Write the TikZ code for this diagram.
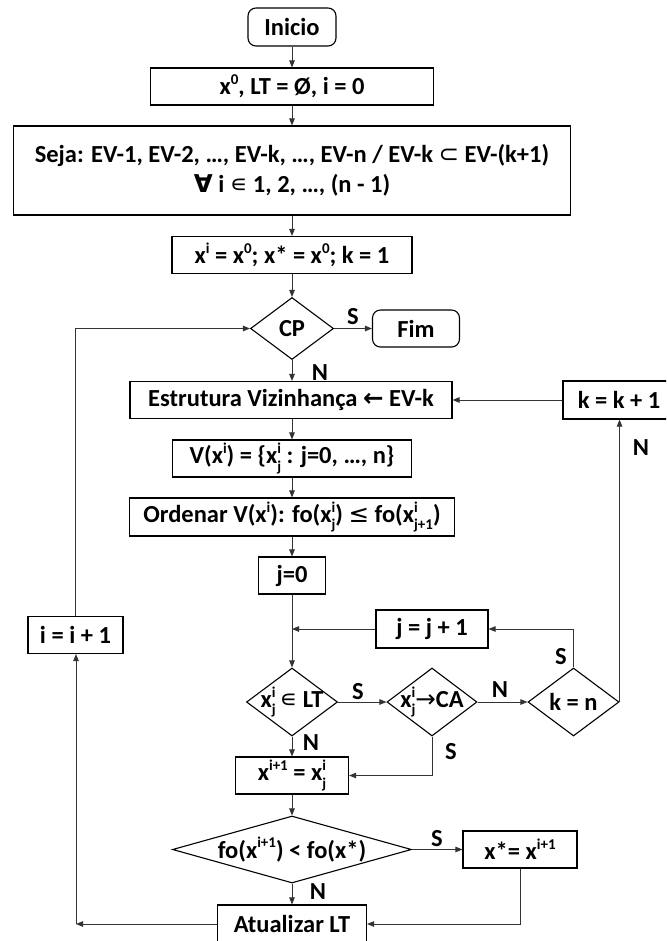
\documentclass[tikz,border=0pt]{standalone}
\usepackage{fontspec}
\setmainfont{Carlito}
\newfontfamily\symfont{DejaVu Sans}
\usetikzlibrary{shapes.geometric,arrows.meta}

% raised / lowered indices set in the text font
\newcommand\supx[1]{\raisebox{0.42em}{\fontsize{15}{15}\selectfont #1}}
\newcommand\subx[1]{\raisebox{-0.3em}{\fontsize{15}{15}\selectfont #1}}
\newcommand\supsubx[2]{\makebox[0pt][l]{\supx{#1}}\subx{#2}}
% relation and arrow glyphs from DejaVu Sans
\newcommand\sym[1]{{\symfont\mdseries #1}}
\newcommand\symb[1]{{\symfont\bfseries #1}}

\tikzset{
  txt/.style={font=\bfseries\fontsize{24.5}{30}\selectfont},
  box/.style={txt, draw=black, line width=1.1pt, fill=white, inner sep=0pt,
              align=center},
  rbox/.style={box, rounded corners=8pt},
  dia/.style={diamond, draw=black, line width=1.1pt, fill=white, inner sep=0pt},
  dtext/.style={txt, inner sep=0pt},
  lab/.style={txt, inner sep=0pt},
  conn/.style={draw=black!80, line width=0.9pt,
               -{Triangle[length=7pt,width=5.5pt]}},
}

\begin{document}
\begin{tikzpicture}[x=1pt,y=-1pt]
\useasboundingbox (0,0) rectangle (666,941);
\clip (0,0) rectangle (666,941);
\fill[white] (0,0) rectangle (666,941);

% main column
\node[rbox, minimum width=88pt, minimum height=38pt] (inicio) at (292,27) {Inicio};
\node[box, minimum width=283pt, minimum height=37pt] (b2) at (292,86.5)
  {x\supx{0}, LT = Ø, i = 0};
\node[box, minimum width=557pt, minimum height=89pt] (b3) at (292,170.5)
  {Seja: EV-1, EV-2, …, EV-k, …, EV-n / EV-k \sym{⊂} EV-(k+1)\\
   \symb{∀} i \sym{∊} 1, 2, …, (n - 1)};
\node[box, minimum width=240pt, minimum height=37pt] (b4) at (292,255)
  {x\supx{i} = x\supx{0}; x* = x\supx{0}; k = 1};
\node[dia, minimum width=83pt, minimum height=62pt,
      label={[dtext]center:CP}] (cp) at (292,328.5) {};
\node[rbox, minimum width=87pt, minimum height=37pt] (fim) at (416,328.5) {Fim};
\node[box, minimum width=322pt, minimum height=37pt] (estr) at (291,400)
  {Estrutura Vizinhança \symb{←} EV-k};
\node[box, minimum width=112pt, minimum height=38pt] (kk) at (619,400) {k = k + 1};
\node[box, minimum width=239pt, minimum height=37pt] (vx) at (292,458.5)
  {V(x\supx{i}) = \{x\supsubx{i}{j} : j=0, …, n\}};
\node[box, minimum width=325pt, minimum height=38pt] (ord) at (292,517)
  {Ordenar V(x\supx{i}): fo(x\supsubx{i}{j}) \sym{≤} fo(x\supsubx{i}{j+1})};
\node[box, minimum width=67pt, minimum height=37pt] (j0) at (292,575.5) {j=0};
\node[box, minimum width=112pt, minimum height=38pt] (jj) at (432,629) {j = j + 1};
\node[box, minimum width=95pt, minimum height=37pt] (ii) at (75.5,635) {i = i + 1};

% inner loop tests
\node[dia, minimum width=91pt, minimum height=68pt,
      label={[dtext]center:{x\supsubx{i}{j}\,\sym{∊} LT}}] (d1) at (292,702) {};
\node[dia, minimum width=90pt, minimum height=68pt,
      label={[dtext]center:{x\supsubx{i}{j}\sym{→}CA}}] (d2) at (432,702) {};
\node[dia, minimum width=91pt, minimum height=68pt,
      label={[dtext]center:{k = n}}] (d3) at (573.5,702) {};
\node[box, minimum width=113pt, minimum height=37pt] (xi1) at (292,775.5)
  {x\supx{i+1} = x\supsubx{i}{j}};
\node[dia, minimum width=239pt, minimum height=67pt,
      label={[dtext]center:{fo(x\supx{i+1}) < fo(x*)}}] (d4) at (292,849.5) {};
\node[box, minimum width=114pt, minimum height=37pt] (xs) at (520,849.5)
  {x*= x\supx{i+1}};
\node[box, minimum width=149pt, minimum height=38pt] (atu) at (292,924) {Atualizar LT};
\coordinate (cnr) at (76,924);

% connectors
\draw[conn] (inicio) -- (b2);
\draw[conn] (b2) -- (b3);
\draw[conn] (b3) -- (b4);
\draw[conn] (b4) -- (cp);
\draw[conn] (cp) -- (fim);
\draw[conn] (cp.south) -- (cp.south |- estr.north);
\draw[conn] (kk) -- (estr);
\draw[conn] (estr.south -| vx.north) -- (vx);
\draw[conn] (vx) -- (ord);
\draw[conn] (ord) -- (j0);
\draw[conn] (j0) -- (d1);
\draw[conn] (jj.west) -- (jj.west -| j0.south);
\draw[conn] (d1) -- (d2);
\draw[conn] (d2) -- (d3);
\draw[conn] (d3.north) |- (jj.east);
\draw[conn] (d3.east) -- (d3.east |- kk.south);
\draw[conn] (d1) -- (xi1);
\draw[conn] (d2.south) |- (xi1.east);
\draw[conn] (xi1) -- (d4);
\draw[conn] (d4) -- (xs);
\draw[conn] (d4) -- (atu);
\draw[conn] (xs.south) |- (atu.east);
\draw[conn] (atu.west) -- (cnr);
\draw[conn] (cnr) -- (cnr |- ii.south);
\draw[conn] (ii.north) |- (cp.west);

% branch labels
\node[lab] at (353,317) {S};
\node[lab] at (320,373) {N};
\node[lab] at (641,448) {N};
\node[lab] at (561,657) {S};
\node[lab] at (358,692) {S};
\node[lab] at (500,690) {N};
\node[lab] at (311,743) {N};
\node[lab] at (451,752) {S};
\node[lab] at (437,839) {S};
\node[lab] at (318,892) {N};
\end{tikzpicture}
\end{document}
